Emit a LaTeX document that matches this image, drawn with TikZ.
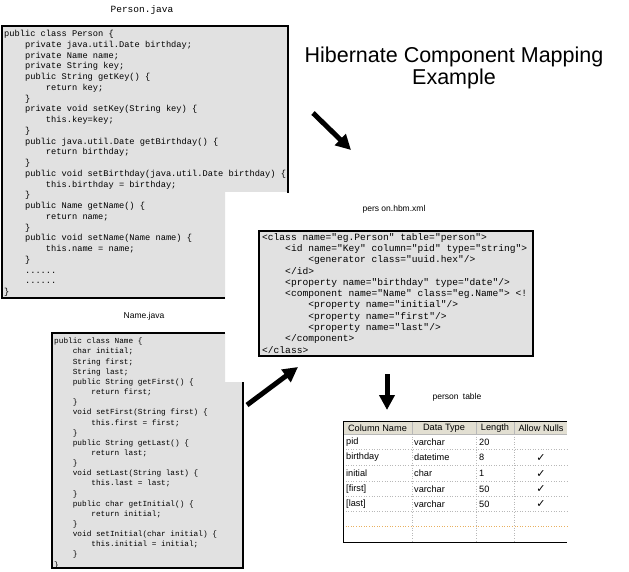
\documentclass[tikz,border=0pt]{standalone}
\usepackage{fontspec}
\setmainfont{Liberation Sans}
\setmonofont{Liberation Mono}
\newfontfamily\dejavu{DejaVu Sans}
\usetikzlibrary{arrows.meta}
\definecolor{stip}{HTML}{E1E1E1}
\definecolor{hdr}{HTML}{E2DFD2}
\definecolor{gridc}{HTML}{B8B8B8}
\definecolor{orangeline}{HTML}{E8B060}
\newcommand{\indA}{\hphantom{0000}}
\newcommand{\indB}{\hphantom{00000000}}
\begin{document}
\begin{tikzpicture}[x=1pt,y=-1pt,
  boxline/.style={draw=black, line width=1.3pt},
  code/.style={anchor=north west, inner sep=0pt, align=left},
  label/.style={inner sep=0pt, font=\fontsize{8.5}{10}\selectfont},
  fatarrow/.style={line width=5pt, -{Triangle[length=15pt,width=15pt]}},
  cell/.style={inner sep=0pt, anchor=west, font=\fontsize{9.2}{11}\selectfont},
  hcell/.style={inner sep=0pt, font=\fontsize{9.2}{11}\selectfont},
  chk/.style={inner sep=0pt, font=\dejavu\fontsize{11}{12}\selectfont},
  rowsep/.style={draw=gridc, dotted, line width=0.6pt},
]
\useasboundingbox (0,0) rectangle (629,572);
\fill[white] (0,0) rectangle (629,572);

% ---------- Person.java ----------
\node[inner sep=0pt, font=\ttfamily\fontsize{9.5}{11}\selectfont] (plabel) at (142,10) {Person.java};
\fill[stip] (2,26) -- (288,26) -- (288,192) -- (225,192) -- (225,298) -- (2,298) -- cycle;
\draw[boxline] (225,298) -- (2,298) -- (2,26) -- (288,26) -- (288,193);
\node[code, font=\ttfamily\fontsize{8.7}{10.75}\selectfont] (pcode) at (4,30) {%
public class Person \{\\
\indA private java.util.Date birthday;\\
\indA private Name name;\\
\indA private String key;\\
\indA public String getKey() \{\\
\indB return key;\\
\indA \}\\
\indA private void setKey(String key) \{\\
\indB this.key=key;\\
\indA \}\\
\indA public java.util.Date getBirthday() \{\\
\indB return birthday;\\
\indA \}\\
\indA public void setBirthday(java.util.Date birthday) \{\\
\indB this.birthday = birthday;\\
\indA \}\\
\indA public Name getName() \{\\
\indB return name;\\
\indA \}\\
\indA public void setName(Name name) \{\\
\indB this.name = name;\\
\indA \}\\
\indA ......\\
\indA ......\\
\}};

% ---------- Title ----------
\node[inner sep=0pt, align=center, font=\fontsize{21.5}{22}\selectfont] (title) at (454,68) {Hibernate Component Mapping\\Example};

% ---------- person.hbm.xml ----------
\node[label] (xlabel) at (394,209) {pers on.hbm.xml};
\fill[stip] (259,231) rectangle (533,356);
\begin{scope}
\clip (259,231) rectangle (532.5,356);
\node[code, font=\ttfamily\fontsize{9.6}{11.3}\selectfont] (xcode) at (262,233) {%
<class name="eg.Person" table="person">\\
\indA <id name="Key" column="pid" type="string">\\
\indB <generator class="uuid.hex"/>\\
\indA </id>\\
\indA <property name="birthday" type="date"/>\\
\indA <component name="Name" class="eg.Name"> <!\\
\indB <property name="initial"/>\\
\indB <property name="first"/>\\
\indB <property name="last"/>\\
\indA </component>\\
</class>};
\end{scope}
\draw[boxline] (259,231) rectangle (533,356);

% ---------- Name.java ----------
\node[label] (nlabel) at (144,316) {Name.java};
\fill[stip] (52,333) -- (225,333) -- (225,382) -- (243,382) -- (243,568) -- (52,568) -- cycle;
\draw[boxline] (225,333) -- (52,333) -- (52,568) -- (243,568) -- (243,382);
\node[code, font=\ttfamily\fontsize{7.75}{10.15}\selectfont] (ncode) at (54,338) {%
public class Name \{\\
\indA char initial;\\
\indA String first;\\
\indA String last;\\
\indA public String getFirst() \{\\
\indB return first;\\
\indA \}\\
\indA void setFirst(String first) \{\\
\indB this.first = first;\\
\indA \}\\
\indA public String getLast() \{\\
\indB return last;\\
\indA \}\\
\indA void setLast(String last) \{\\
\indB this.last = last;\\
\indA \}\\
\indA public char getInitial() \{\\
\indB return initial;\\
\indA \}\\
\indA void setInitial(char initial) \{\\
\indB this.initial = initial;\\
\indA \}\\
\}};

% ---------- arrows ----------
\coordinate (a1s) at (313,113);
\coordinate (a1e) at (351,150);
\coordinate (a2s) at (247,405);
\coordinate (a2e) at (298,367);
\coordinate (a3s) at (387,374);
\coordinate (a3e) at (387,410);
\draw[fatarrow] (a1s) -- (a1e);
\draw[fatarrow] (a2s) -- (a2e);
\draw[fatarrow] (a3s) -- (a3e);

% ---------- person table ----------
\node[label] (tlabel) at (457,397) {person\hspace{0.5em}table};
\fill[hdr] (343,421) rectangle (567,434);
\foreach \y in {449,465,481,496,511} \draw[rowsep] (343,\y) -- (567,\y);
\draw[draw=orangeline, dotted, line width=0.6pt] (343,526) -- (567,526);
\draw[gridc, line width=0.8pt] (343,434) -- (567,434);
\foreach \x in {412,476,514} \draw[gridc, dotted, line width=0.6pt] (\x,421) -- (\x,542);
\foreach \x in {412,476,514} \draw[gridc, line width=0.8pt] (\x,421) -- (\x,434);
\draw[black, line width=1pt] (567,421) -- (343,421) -- (343,542) -- (567,542);

\node[hcell] (h1) at (377.5,428) {Column Name};
\node[hcell] (h2) at (444,428) {Data Type};
\node[hcell] (h3) at (495,428) {Length};
\node[hcell] (h4) at (541,428) {Allow Nulls};

\node[cell] (r1a) at (346,442) {pid};
\node[cell] (r1b) at (414,442) {varchar};
\node[cell] (r1c) at (479,442) {20};

\node[cell] (r2a) at (346,457.5) {birthday};
\node[cell] (r2b) at (414,457.5) {datetime};
\node[cell] (r2c) at (479,457.5) {8};
\node[chk] (r2d) at (541,458) {✓};

\node[cell] (r3a) at (346,473.5) {initial};
\node[cell] (r3b) at (414,473.5) {char};
\node[cell] (r3c) at (479,473.5) {1};
\node[chk] (r3d) at (541,474) {✓};

\node[cell] (r4a) at (346,489) {[first]};
\node[cell] (r4b) at (414,489) {varchar};
\node[cell] (r4c) at (479,489) {50};
\node[chk] (r4d) at (541,489.5) {✓};

\node[cell] (r5a) at (346,504) {[last]};
\node[cell] (r5b) at (414,504) {varchar};
\node[cell] (r5c) at (479,504) {50};
\node[chk] (r5d) at (541,504.5) {✓};
\end{tikzpicture}
\end{document}
